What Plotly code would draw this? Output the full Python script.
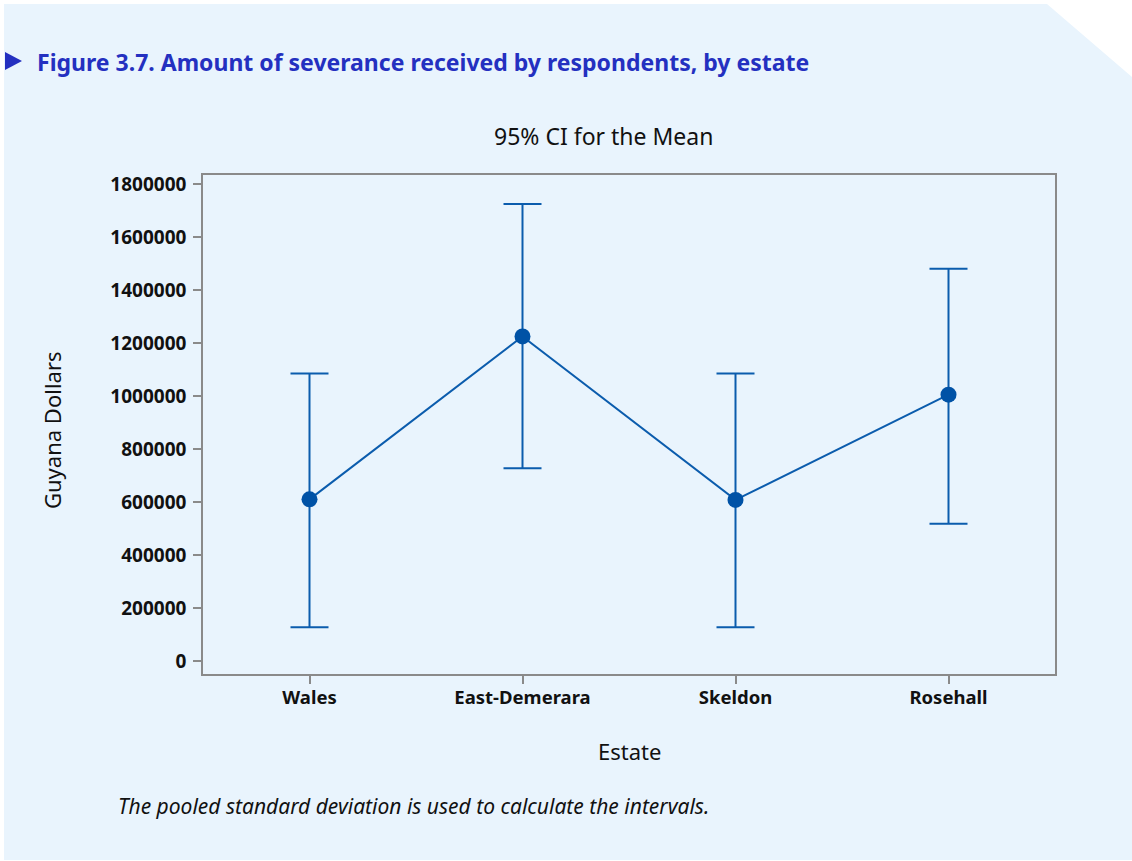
import plotly.graph_objects as go

# Mean severance and 95% confidence interval per estate (Guyana dollars)
estates = ["Wales", "East-Demerara", "Skeldon", "Rosehall"]
mean_amount = [610000, 1225000, 608000, 1005000]
ci_upper = [1085000, 1725000, 1085000, 1480000]
ci_lower = [127000, 727000, 127000, 518000]
y_ticks = [0, 200000, 400000, 600000, 800000, 1000000, 1200000, 1400000, 1600000, 1800000]

W, H = 1132, 861
L, R, T, B = 203, 77, 175, 187
PW, PH = W - L - R, H - T - B


def px(x):
    return (x - L) / PW


def py(y):
    return (H - B - y) / PH


BLUE = "#0b5cad"
PANEL = "#e9f4fd"
FONT = "Noto Sans"
INK = "#111111"

fig = go.Figure()
fig.add_trace(go.Scatter(
    x=estates,
    y=mean_amount,
    mode="lines+markers",
    line=dict(color=BLUE, width=2),
    marker=dict(color="#0052a6", size=16),
    error_y=dict(
        type="data",
        symmetric=False,
        array=[u - m for u, m in zip(ci_upper, mean_amount)],
        arrayminus=[m - l for m, l in zip(mean_amount, ci_lower)],
        color=BLUE,
        thickness=2,
        width=19,
    ),
    showlegend=False,
))

# Light panel with the clipped top-right corner
panel_path = (
    f"M {px(4)} {py(4)} L {px(1047)} {py(4)} L {px(1132)} {py(77)} "
    f"L {px(1132)} {py(860)} L {px(4)} {py(860)} Z"
)
shapes = [
    dict(type="path", xref="paper", yref="paper", path=panel_path,
         fillcolor=PANEL, line=dict(width=0), layer="below"),
    # Heading marker triangle
    dict(type="path", xref="paper", yref="paper",
         path=f"M {px(5)} {py(52)} L {px(22)} {py(61)} L {px(5)} {py(70)} Z",
         fillcolor="#2430c0", line=dict(width=0)),
]

annotations = [
    dict(text="<b>Figure 3.7. Amount of severance received by respondents, by estate</b>",
         xref="paper", yref="paper", x=px(35), y=py(62), xanchor="left", yanchor="middle",
         showarrow=False, font=dict(family=FONT, size=23, color="#2430c0")),
    dict(text="95% CI for the Mean",
         xref="paper", yref="paper", x=px(603), y=py(136), xanchor="center", yanchor="middle",
         showarrow=False, font=dict(family=FONT, size=23, color=INK)),
    dict(text="Estate",
         xref="paper", yref="paper", x=px(629), y=py(751), xanchor="center", yanchor="middle",
         showarrow=False, font=dict(family=FONT, size=22, color=INK)),
    dict(text="Guyana Dollars", textangle=-90,
         xref="paper", yref="paper", x=px(52), y=py(430), xanchor="center", yanchor="middle",
         showarrow=False, font=dict(family=FONT, size=22, color=INK)),
    dict(text="<i>The pooled standard deviation is used to calculate the intervals.</i>",
         xref="paper", yref="paper", x=px(116), y=py(806), xanchor="left", yanchor="middle",
         showarrow=False, font=dict(family=FONT, size=21, color=INK)),
]

fig.update_layout(
    width=W, height=H,
    margin=dict(l=L, r=R, t=T, b=B),
    paper_bgcolor="white",
    plot_bgcolor=PANEL,
    shapes=shapes,
    annotations=annotations,
    font=dict(family=FONT, color=INK),
    xaxis=dict(
        range=[-0.5, 3.5],
        showline=True, linecolor="#8a8a8a", linewidth=1.5, mirror=True,
        ticks="outside", ticklen=8, tickcolor="#8a8a8a", tickwidth=1.5,
        ticklabelstandoff=-2,
        tickfont=dict(family=FONT, size=18.5, color=INK, weight="bold"),
        showgrid=False, zeroline=False,
    ),
    yaxis=dict(
        range=[-49000, 1834000],
        tickvals=y_ticks,
        ticktext=[str(v) for v in y_ticks],
        showline=True, linecolor="#8a8a8a", linewidth=1.5, mirror=True,
        ticks="outside", ticklen=8, tickcolor="#8a8a8a", tickwidth=1.5,
        ticklabelstandoff=3,
        tickfont=dict(family=FONT, size=19, color=INK, weight="bold"),
        showgrid=False, zeroline=False,
    ),
)

fig.write_html("out.html")
